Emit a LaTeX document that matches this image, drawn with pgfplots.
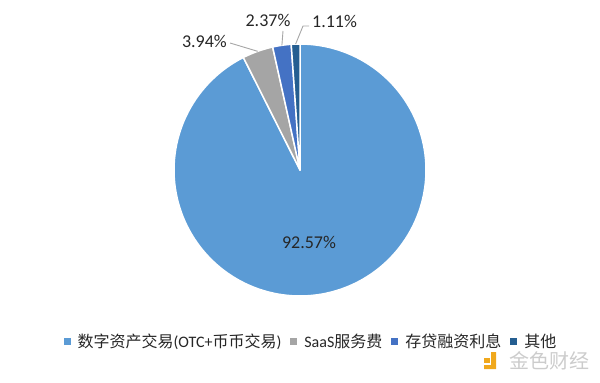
\documentclass[border=0pt]{standalone}
\usepackage{pgfplots}
\pgfplotsset{compat=1.18}
\usepackage{pgfplotstable}
\usepackage{fontspec}
\setmainfont{Carlito}
\newfontfamily\cjk{Noto Sans CJK SC}

\definecolor{sliceA}{HTML}{5B9BD5}
\definecolor{sliceB}{HTML}{A5A5A5}
\definecolor{sliceC}{HTML}{4472C4}
\definecolor{sliceD}{HTML}{255E91}
\definecolor{txt}{HTML}{262626}
\definecolor{leader}{HTML}{A6A6A6}
\definecolor{wmark}{HTML}{CCCCCC}
\definecolor{wlogo}{HTML}{F0A81C}

% revenue shares in percent
\pgfplotstableread{
share
92.57
3.94
2.37
1.11
}\piedata

\begin{document}
\begin{tikzpicture}
\pgfplotstablegetelem{0}{share}\of\piedata \let\va\pgfplotsretval
\pgfplotstablegetelem{1}{share}\of\piedata \let\vb\pgfplotsretval
\pgfplotstablegetelem{2}{share}\of\piedata \let\vc\pgfplotsretval
\pgfplotstablegetelem{3}{share}\of\piedata \let\vd\pgfplotsretval
\pgfmathsetmacro\tot{\va+\vb+\vc+\vd}
% slice boundaries, clockwise from 12 o'clock
\pgfmathsetmacro\aA{90}
\pgfmathsetmacro\aB{\aA-360*(\va/\tot)}
\pgfmathsetmacro\aC{\aB-360*(\vb/\tot)}
\pgfmathsetmacro\aD{\aC-360*(\vc/\tot)}
\pgfmathsetmacro\aE{\aD-360*(\vd/\tot)}
\pgfmathsetmacro\mB{(\aB+\aC)/2}
\pgfmathsetmacro\mC{(\aC+\aD)/2}
\pgfmathsetmacro\mD{(\aD+\aE)/2}
\def\R{126}
\def\cx{300}
\def\cy{212}
\begin{axis}[
  x=1bp, y=1bp,
  xmin=0, xmax=600, ymin=0, ymax=382,
  hide axis, clip=false,
  legend columns=4,
  legend style={at={(axis cs:310,40.5)}, anchor=center, draw=none, fill=none,
    font=\fontsize{16bp}{19bp}\selectfont, text=txt,
    nodes={inner xsep=0pt},
    /tikz/every odd column/.append style={column sep=7bp},
    /tikz/every even column/.append style={column sep=9bp}},
  legend image code/.code={\fill[#1, draw=none] (0bp,-3.5bp) rectangle (7bp,3.5bp);},
  wedge/.style={draw=white, line width=1.5bp, line join=round},
]
\path (0,0) rectangle (600,382);

\addplot[wedge, fill=sliceA, domain=\aB:\aA, samples=150, variable=\t]
  ({\cx+\R*cos(\t)}, {\cy+\R*sin(\t)}) -- (\cx,\cy) -- cycle;
\addlegendentry{{\cjk 数字资产交易}(OTC+{\cjk 币币交易})}
\addplot[wedge, fill=sliceB, domain=\aC:\aB, samples=20, variable=\t]
  ({\cx+\R*cos(\t)}, {\cy+\R*sin(\t)}) -- (\cx,\cy) -- cycle;
\addlegendentry{SaaS{\cjk 服务费}}
\addplot[wedge, fill=sliceC, domain=\aD:\aC, samples=20, variable=\t]
  ({\cx+\R*cos(\t)}, {\cy+\R*sin(\t)}) -- (\cx,\cy) -- cycle;
\addlegendentry{{\cjk 存贷融资利息}}
\addplot[wedge, fill=sliceD, domain=\aE:\aD, samples=20, variable=\t]
  ({\cx+\R*cos(\t)}, {\cy+\R*sin(\t)}) -- (\cx,\cy) -- cycle;
\addlegendentry{{\cjk 其他}}

% data labels
\tikzset{lab/.style={font=\fontsize{18bp}{20bp}\selectfont, text=txt, inner sep=0pt}}
\node[lab] at (309,140) {\va\%};
\node[lab, anchor=east] at (227,341) {\vb\%};
\draw[leader, line width=0.9bp] (230,339) -- ({\cx+\R*cos(\mB)},{\cy+\R*sin(\mB)});
\node[lab] at (268,362) {\vc\%};
\draw[leader, line width=0.9bp] (283,351) -- ({\cx+\R*cos(\mC)},{\cy+\R*sin(\mC)});
\node[lab, anchor=west] at (312,361) {\vd\%};
\draw[leader, line width=0.9bp] (309,356) -- (303,356) -- ({\cx+\R*cos(\mD)},{\cy+\R*sin(\mD)});

% watermark
\fill[wlogo] (484,19) rectangle (490,24);
\fill[wlogo] (491,30) -- (496,30) -- (496,13) -- (484,13) -- (484,17) -- (491,17) -- cycle;
\node[font=\cjk\fontsize{20bp}{22bp}\selectfont, text=wmark, inner sep=0pt,
      anchor=west] at (509,21) {金色财经};
\end{axis}
\end{tikzpicture}
\end{document}
